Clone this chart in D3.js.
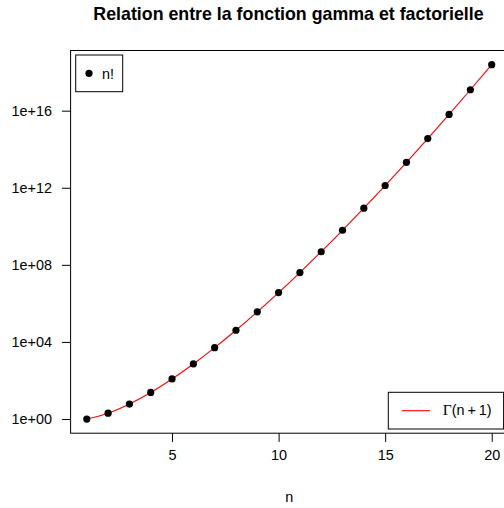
<!DOCTYPE html>
<html><head><meta charset="utf-8">
<script src="https://cdn.jsdelivr.net/npm/d3@7"></script>
<style>body{margin:0;background:#fff}svg{display:block}text{font-family:"Liberation Sans",Arial,sans-serif}</style>
</head><body>
<script>
const nValues = [1,2,3,4,5,6,7,8,9,10,11,12,13,14,15,16,17,18,19,20];
const factorials = [1,2,6,24,120,720,5040,40320,362880,3628800,39916800,479001600,6227020800,87178291200,1307674368000,20922789888000,355687428096000,6402373705728000,121645100408832000,2432902008176640000];
const xTicks = [5,10,15,20];
const yTicks = [1e0,1e4,1e8,1e12,1e16];
const titleText = "Relation entre la fonction gamma et factorielle";
const xLabel = "n";
const legendPoints = "n!";

(function(){
const W=504,H=508;
const svg=d3.select("body").append("svg").attr("width",W).attr("height",H);
const pL=70.6,pR=507.9,pT=50.5,pB=433.2;
const xmin=d3.min(nValues),xmax=d3.max(nValues),xe=0.04*(xmax-xmin);
const lmin=Math.log10(d3.min(factorials)),lmax=Math.log10(d3.max(factorials)),le=0.04*(lmax-lmin);
const x=d3.scaleLinear().domain([xmin-xe,xmax+xe]).range([pL,pR]);
const y=d3.scaleLog().domain([Math.pow(10,lmin-le),Math.pow(10,lmax+le)]).range([pB,pT]);
const data=nValues.map((n,i)=>({n,v:factorials[i]}));

svg.append("text").attr("x",288.5).attr("y",19.5).attr("text-anchor","middle")
  .attr("font-weight","bold").attr("font-size",17.8).text(titleText);
svg.append("text").attr("x",(pL+pR)/2).attr("y",502).attr("text-anchor","middle")
  .attr("font-size",14.4).text(xLabel);

const fmt=d=>{const e=Math.round(Math.log10(d));return "1e+"+String(e).padStart(2,"0");};
const ya=svg.append("g").attr("transform",`translate(${pL},0)`)
  .call(d3.axisLeft(y).tickValues(yTicks).tickFormat(fmt).tickSize(8.7).tickPadding(10));
const xa=svg.append("g").attr("transform",`translate(0,${pB})`)
  .call(d3.axisBottom(x).tickValues(xTicks).tickSize(8.7).tickPadding(8));
[ya,xa].forEach(g=>{g.select(".domain").remove();g.selectAll("text").attr("font-size",14.4).attr("fill","#000").attr("font-family","Liberation Sans, Arial, sans-serif");g.selectAll("line").attr("stroke","#000");});

const line=d3.line().x(d=>x(d.n)).y(d=>y(d.v)).curve(d3.curveNatural);
svg.append("path").datum(data).attr("d",line).attr("fill","none").attr("stroke","#ff0000").attr("stroke-width",1.1);
svg.append("g").selectAll("circle").data(data).join("circle")
  .attr("cx",d=>x(d.n)).attr("cy",d=>y(d.v)).attr("r",3.6).attr("fill","#000");

svg.append("rect").attr("x",pL).attr("y",pT).attr("width",pR-pL).attr("height",pB-pT)
  .attr("fill","none").attr("stroke","#000").attr("stroke-width",1);

svg.append("rect").attr("x",75.7).attr("y",55).attr("width",47).attr("height",36.7).attr("fill","#fff").attr("stroke","#000");
svg.append("circle").attr("cx",89).attr("cy",73.3).attr("r",3.6).attr("fill","#000");
svg.append("text").attr("x",102).attr("y",78.5).attr("font-size",14.4).text(legendPoints);

svg.append("rect").attr("x",388.3).attr("y",392.3).attr("width",115.3).attr("height",36.7).attr("fill","#fff").attr("stroke","#000");
svg.append("line").attr("x1",401.7).attr("x2",430).attr("y1",410.7).attr("y2",410.7).attr("stroke","#ff0000").attr("stroke-width",1.1);
const t=svg.append("text").attr("x",442.7).attr("y",414.5).attr("font-size",14.4);
t.append("tspan").attr("font-family","Liberation Serif, Times New Roman, serif").attr("font-size",15.5).text("Γ");
t.append("tspan").text("(n");
t.append("tspan").attr("dx",3).text("+");
t.append("tspan").attr("dx",3).text("1)");
})();
</script>
</body></html>
